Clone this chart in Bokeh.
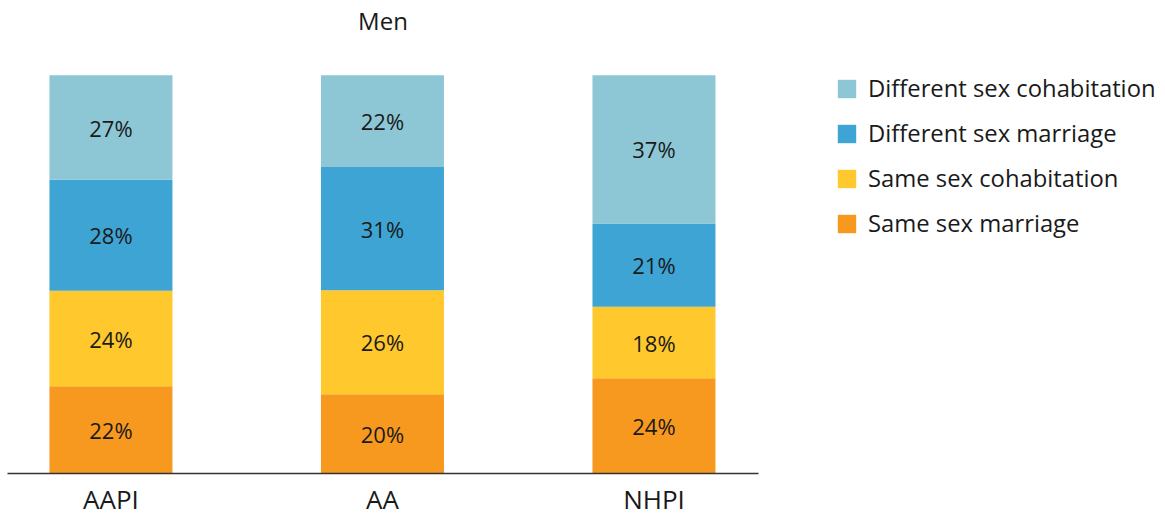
import numpy as np
from bokeh.plotting import figure
from bokeh.layouts import row
from bokeh.models import ColumnDataSource, Range1d, Legend, LegendItem, FixedTicker
from bokeh.core.properties import value
from bokeh.embed import file_html
from bokeh.resources import INLINE

# ---- data ----
groups = ["AAPI", "AA", "NHPI"]
series = ["Same sex marriage", "Same sex cohabitation",
          "Different sex marriage", "Different sex cohabitation"]
colors = ["#F7981F", "#FFC82C", "#3DA4D4", "#8DC7D6"]

same_sex_marriage = [21.9, 19.9, 23.9]
same_sex_cohabitation = [24.0, 26.1, 18.0]
different_sex_marriage = [27.9, 31.0, 20.9]
different_sex_cohabitation = [26.2, 23.0, 37.2]

labels_same_sex_marriage = ["22%", "20%", "24%"]
labels_same_sex_cohabitation = ["24%", "26%", "18%"]
labels_different_sex_marriage = ["28%", "31%", "21%"]
labels_different_sex_cohabitation = ["27%", "22%", "37%"]

TEXT = "#1a1a1a"
FONT = "Open Sans"
H = 519

keys = ["ssm", "ssc", "dsm", "dsc"]
xs = list(range(len(groups)))
data = dict(x=xs, ssm=same_sex_marriage, ssc=same_sex_cohabitation,
            dsm=different_sex_marriage, dsc=different_sex_cohabitation)
source = ColumnDataSource(data)

p = figure(width=760, height=H, output_backend="svg", toolbar_location=None,
           x_range=Range1d(-0.381, 2.385), y_range=Range1d(0, 108.5),
           y_axis_location=None, min_border_left=7, min_border_right=2,
           min_border_top=41, min_border_bottom=46, title="Men")
p.title.align = "center"
p.title.vertical_align = "top"
p.title.standoff = 6
p.title.text_font = FONT
p.title.text_font_size = "24px"
p.title.text_font_style = "normal"
p.title.text_color = TEXT

renderers = p.vbar_stack(keys, x="x", width=0.453, color=colors, source=source,
                         line_color=None)

# segment labels
vals = np.array([same_sex_marriage, same_sex_cohabitation,
                 different_sex_marriage, different_sex_cohabitation])
labs = [labels_same_sex_marriage, labels_same_sex_cohabitation,
        labels_different_sex_marriage, labels_different_sex_cohabitation]
tops = np.cumsum(vals, axis=0)
mids = tops - vals / 2
lx, ly, lt = [], [], []
for i in range(len(keys)):
    for j in range(len(groups)):
        lx.append(xs[j]); ly.append(mids[i, j]); lt.append(labs[i][j])
p.text(x=lx, y=ly, text=lt, text_align="center", text_baseline="middle",
       text_font=value(FONT), text_font_size="22px", text_color=TEXT)

# axes
p.xaxis.ticker = FixedTicker(ticks=xs)
p.xaxis.major_label_overrides = {i: g for i, g in enumerate(groups)}
p.xaxis.major_tick_line_color = None
p.xaxis.minor_tick_line_color = None
p.xaxis.major_tick_out = 0
p.xaxis.axis_line_color = "#333333"
p.xaxis.axis_line_width = 1.5
p.xaxis.major_label_text_font = FONT
p.xaxis.major_label_text_font_size = "26px"
p.xaxis.major_label_text_color = TEXT
p.xaxis.major_label_standoff = 7
p.xgrid.visible = False
p.ygrid.visible = False
p.outline_line_color = None

# legend in a companion panel
lg = figure(width=397, height=H, output_backend="svg", toolbar_location=None,
            x_range=Range1d(0, 1), y_range=Range1d(0, 100),
            x_axis_location=None, y_axis_location=None,
            min_border_left=0, min_border_right=0, min_border_top=0, min_border_bottom=0)
lg.xgrid.visible = False
lg.ygrid.visible = False
lg.outline_line_color = None
lrend = lg.vbar_stack(keys, x="x", width=0.453, color=colors, source=source,
                      line_color=None)
for r in lrend:
    r.visible = False

items = [LegendItem(label=series[i], renderers=[lrend[i]]) for i in reversed(range(len(series)))]
legend = Legend(items=items, location=(75, 234), padding=0, margin=0,
                border_line_color=None, background_fill_alpha=0,
                glyph_width=23, glyph_height=23, label_standoff=10, spacing=13,
                label_text_font=FONT, label_text_font_size="23.8px",
                label_text_color=TEXT)
lg.add_layout(legend, "center")

layout = row(p, lg)
open("out.html", "w").write(file_html(layout, INLINE))
